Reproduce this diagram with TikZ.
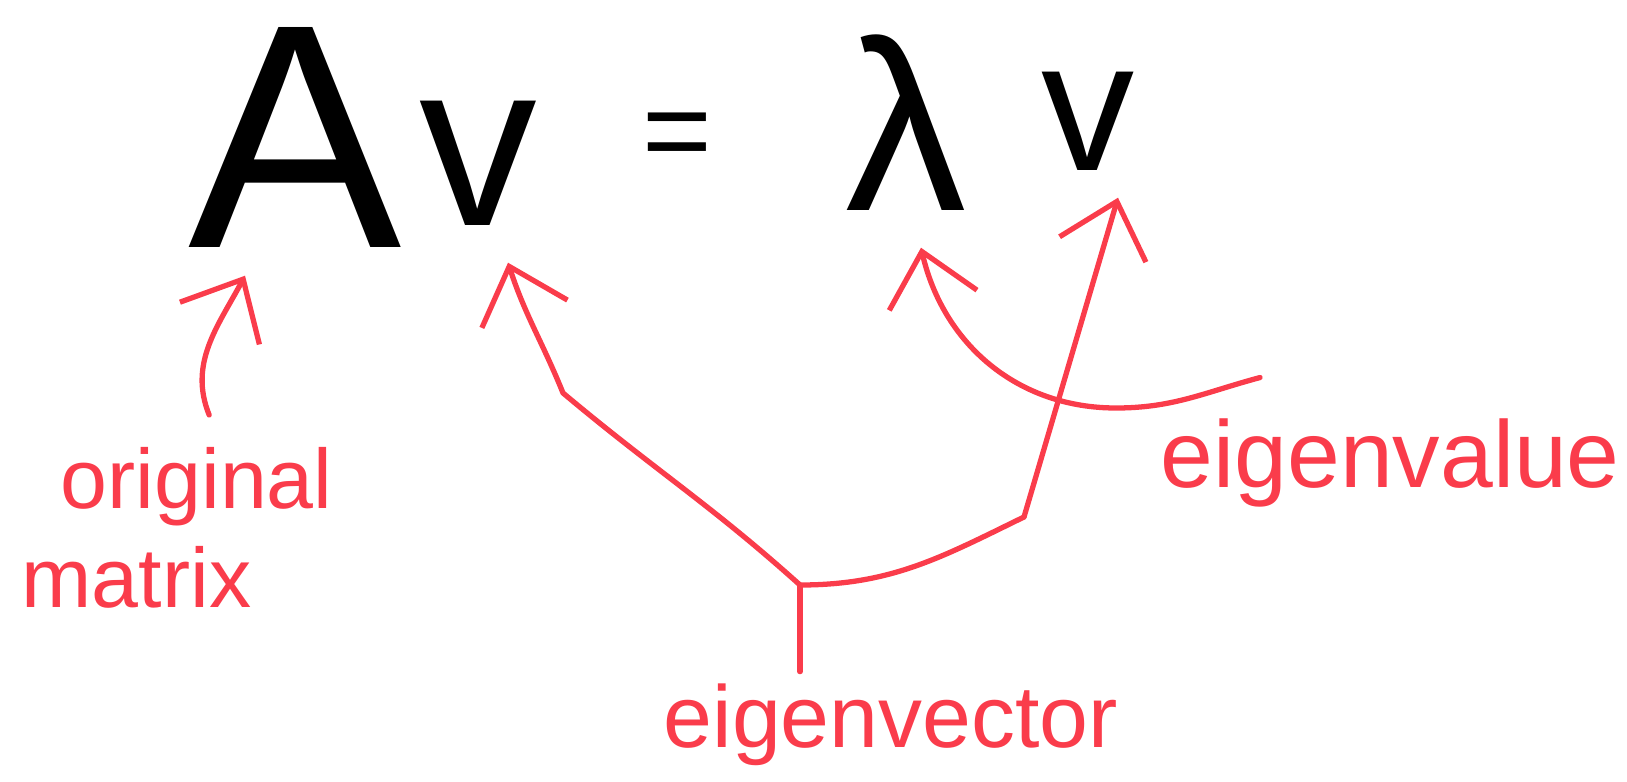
\documentclass[tikz,border=0pt]{standalone}
\usepackage{fontspec}
\setmainfont{Liberation Sans}
\usepackage{xcolor}
\usepackage{tikz}
\usetikzlibrary{arrows.meta, positioning}
\definecolor{inkred}{RGB}{250,60,75}
\definecolor{inkblack}{RGB}{0,0,0}

\begin{document}
\begin{tikzpicture}[
  sym/.style={inner sep=0pt, text=inkblack, anchor=base},
  note/.style={inner sep=0pt, text=inkred, font=\fontsize{26}{30}\selectfont},
  arr/.style={-{Straight Barb[length=5mm,width=9mm]}, line width=1.5pt, draw=inkred, line cap=round, line join=round},
  evline/.style={line width=1.5pt, draw=inkred, line cap=round, line join=round}
]
\useasboundingbox (0,0) rectangle (16.27,-7.82);
% equation on top (1 unit = 100px, y downwards)
\node[sym, font=\fontsize{91}{91}\selectfont] (A)   at (2.95,-2.47)  {A};
\node[sym, font=\fontsize{67}{67}\selectfont] (v1)  at (4.78,-2.25)  {v};
\node[sym, anchor=center, font=\fontsize{34}{34}\selectfont] (eq) at (6.77,-1.42) {=};
\node[sym, font=\fontsize{69}{69}\selectfont] (lam) at (9.06,-2.10)  {λ};
\node[sym, font=\fontsize{53}{53}\selectfont] (v2)  at (10.88,-1.70) {v};

% red labels
\node[note, anchor=north west, align=left, font=\fontsize{24}{28}\selectfont] (orig) at (0.21,-4.47) {\hspace*{3.9mm}original\\matrix};
\node[note, anchor=base west, font=\fontsize{27}{30}\selectfont] (eval) at (11.60,-4.87) {eigenvalue};
\node[note, anchor=base west, font=\fontsize{25}{30}\selectfont] (evec) at (6.63,-7.47) {eigenvector};

% branch points of the eigenvector tree
\coordinate (J) at (8.00,-5.85);
\coordinate (K) at (10.24,-5.17);

% original matrix -> A
\draw[arr] ([xshift=3.2mm,yshift=3.2mm]orig.north) to[out=112,in=242] ([xshift=-5mm,yshift=-2.8mm]A.south);

% eigenvector -> both v's
\draw[evline] (J |- evec.north) ++(0,0.11) -- (J);
\draw[arr] (J) to[out=138,in=-40] (5.63,-3.93) to[out=112,in=288] ([xshift=3mm,yshift=-3.7mm]v1.south);
\draw[evline] (J) to[out=0,in=206] (K);
\draw[arr] (K) -- ([xshift=3mm,yshift=-2.7mm]v2.south);

% eigenvalue -> lambda (swings under the v arrow)
\draw[arr] ([xshift=10mm,yshift=4mm]eval.north west) to[out=195,in=0] (11.16,-4.08)
  to[out=180,in=283] ([xshift=1.5mm,yshift=-3.7mm]lam.south);
\end{tikzpicture}
\end{document}
